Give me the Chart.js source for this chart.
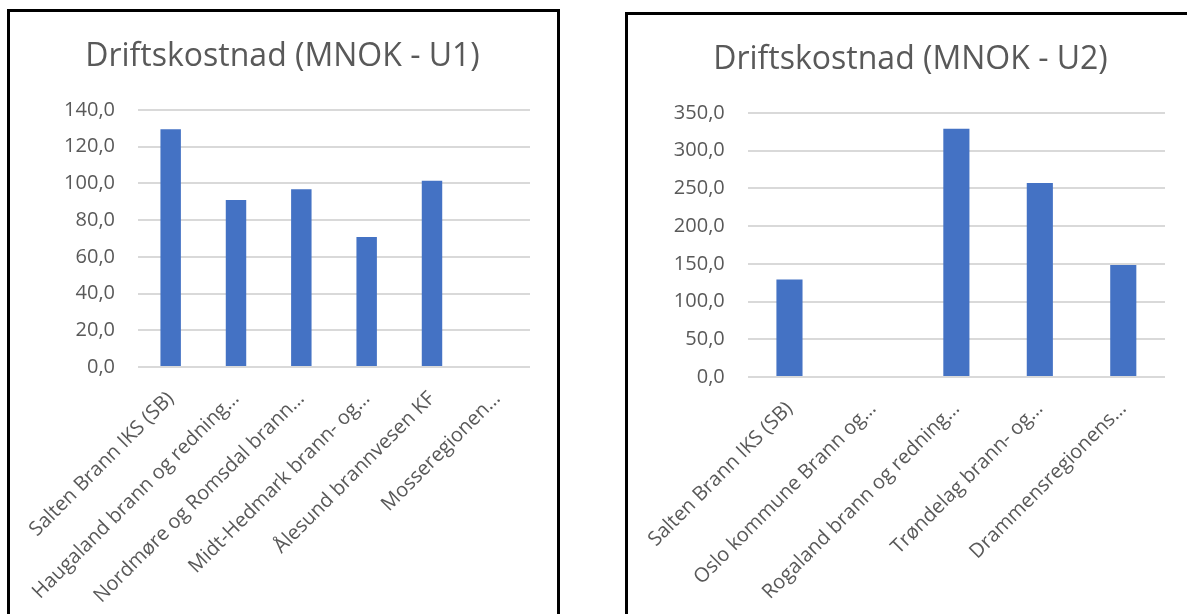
<!DOCTYPE html>
<html lang="no">
<head>
  <meta charset="UTF-8">
  <title>Driftskostnad</title>
  <script src="https://cdn.jsdelivr.net/npm/chart.js@4.4.0/dist/chart.umd.min.js"></script>
  <style>
    body { margin: 0; background: #fff; overflow: hidden; width: 1187px; height: 614px; position: relative; }
    .panel { position: absolute; border: 3px solid #000; background: #fff; height: 640px; }
    #p1 { left: 7px; top: 9px; width: 547px; }
    #p2 { left: 625px; top: 12px; width: 600px; }
    canvas { display: block; }
  </style>
</head>
<body>
  <div class="panel" id="p1"><canvas id="c1" width="547" height="600"></canvas></div>
  <div class="panel" id="p2"><canvas id="c2" width="559" height="600"></canvas></div>

  <script>
    // U1
    const labelsU1 = ['Salten Brann IKS (SB)', 'Haugaland brann og redning…', 'Nordmøre og Romsdal brann…',
                      'Midt-Hedmark brann- og…', 'Ålesund brannvesen KF', 'Mosseregionen…']
    const valuesU1 = [129.5, 91.0, 96.8, 70.8, 101.5, null]
    const ticksU1 = {max: 140, step: 20}

    // U2
    const labelsU2 = ['Salten Brann IKS (SB)', 'Oslo kommune Brann og…', 'Rogaland brann og redning…',
                      'Trøndelag brann- og…', 'Drammensregionens…']
    const valuesU2 = [129.3, null, 329.0, 257.3, 148.5]
    const ticksU2 = {max: 350, step: 50}

    const grey = '#595959'
    const font = 'Open Sans'

    function makeChart(id, title, labels, values, ticks, lay){
      const ctx = document.getElementById(id).getContext('2d')
      return new Chart(ctx, {
        type: 'bar',
        data: {
          labels: labels,
          datasets: [{
            data: values,
            backgroundColor: '#4472C4',
            categoryPercentage: 1,
            barPercentage: 0.313
          }]
        },
        options: {
          responsive: false,
          animation: false,
          layout: { padding: { left: lay.padL, right: lay.padR, top: 0, bottom: 0 } },
          plugins: {
            legend: { display: false },
            tooltip: { enabled: false },
            title: {
              display: true,
              text: title,
              color: grey,
              font: { family: font, size: 32, weight: 'normal', lineHeight: 1.2 },
              padding: { top: 26, bottom: 33.6 }
            }
          },
          scales: {
            x: {
              grid: { display: false },
              border: { display: false },
              ticks: {
                color: grey,
                font: { family: font, size: 20 },
                maxRotation: 45,
                minRotation: 45,
                autoSkip: false,
                padding: 12
              },
              afterFit: s => { s.height = lay.xH }
            },
            y: {
              min: 0,
              max: ticks.max,
              grid: { color: '#d9d9d9', lineWidth: 2, drawTicks: false },
              border: { display: false },
              ticks: {
                stepSize: ticks.step,
                color: grey,
                font: { family: font, size: 20 },
                padding: 23,
                callback: v => v.toFixed(1).replace('.', ',')
              },
              afterFit: s => { s.width = lay.yW }
            }
          }
        }
      })
    }

    makeChart('c1', 'Driftskostnad (MNOK - U1)', labelsU1, valuesU1, ticksU1, {padL: 25, padR: 27, yW: 103, xH: 245})
    makeChart('c2', 'Driftskostnad (MNOK - U2)', labelsU2, valuesU2, ticksU2, {padL: 28, padR: 22, yW: 91, xH: 238})
  </script>
</body>
</html>
